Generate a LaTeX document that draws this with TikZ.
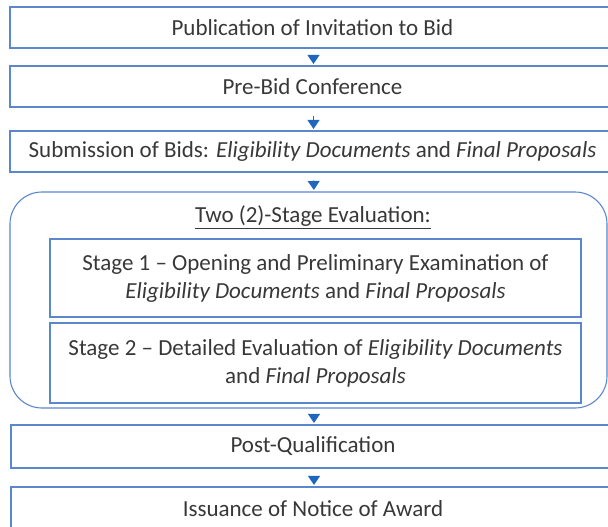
\documentclass[tikz,border=0pt]{standalone}
\usepackage{fontspec}
\setmainfont{Carlito}
\usetikzlibrary{arrows.meta}
\definecolor{boxline}{HTML}{5B87CC}
\definecolor{arrowblue}{HTML}{1F66BE}
\definecolor{txt}{HTML}{383838}
\tikzset{
  stepbox/.style={draw=boxline, line width=1.1pt, rectangle, inner sep=0pt,
    align=center, text=txt, font=\fontsize{23}{28}\selectfont},
  groupbox/.style={draw=boxline, line width=1.1pt, rectangle, rounded corners=32pt,
    inner sep=0pt},
  flow/.style={draw=arrowblue, line width=1pt, shorten >=1.5pt, shorten <=8pt,
    -{Triangle[width=12pt,length=9pt]}, arrowblue},
}
\begin{document}
\begin{tikzpicture}[x=1pt,y=-1pt]
  \useasboundingbox (0,0) rectangle (608,527);
  % main sequence of steps
  \node[stepbox, minimum width=605pt, minimum height=41pt] (pub) at (312.5,27.5)
    {Publication of Invitation to Bid};
  \node[stepbox, minimum width=605pt, minimum height=41pt] (pre) at (312.5,86.5)
    {Pre-Bid Conference};
  \node[stepbox, minimum width=605pt, minimum height=41pt] (sub) at (312.5,151.5)
    {Submission of Bids: \textit{Eligibility Documents} and \textit{Final Proposals}};
  % two-stage evaluation group
  \node[groupbox, minimum width=597pt, minimum height=216pt] (eval) at (308.5,300) {};
  \node[text=txt, font=\fontsize{23}{28}\selectfont, inner sep=0pt] (title) at (313,217)
    {\underline{Two (2)-Stage Evaluation:}};
  \node[stepbox, minimum width=531pt, minimum height=78pt] (st1) at (315.5,278)
    {Stage 1 -- Opening and Preliminary Examination of\\
     \textit{Eligibility Documents} and \textit{Final Proposals}};
  \node[stepbox, minimum width=531pt, minimum height=80pt] (st2) at (315.5,363)
    {Stage 2 -- Detailed Evaluation of \textit{Eligibility Documents}\\
     and \textit{Final Proposals}};
  \node[stepbox, minimum width=604pt, minimum height=43pt] (post) at (313,446.5)
    {Post-Qualification};
  \node[stepbox, minimum width=604pt, minimum height=43pt] (award) at (313,508.5)
    {Issuance of Notice of Award};
  % connectors
  \draw[flow] ([xshift=1pt]pub.south) -- ([xshift=1pt]pre.north);
  \draw[flow] ([xshift=1pt]pre.south) -- ([xshift=1pt]sub.north);
  \draw[flow] ([xshift=1pt]sub.south) -- ([xshift=5.5pt]eval.north);
  \draw[flow] ([xshift=5.5pt]eval.south) -- ([xshift=1pt]post.north);
  \draw[flow] ([xshift=1pt]post.south) -- ([xshift=1pt]award.north);
\end{tikzpicture}
\end{document}
